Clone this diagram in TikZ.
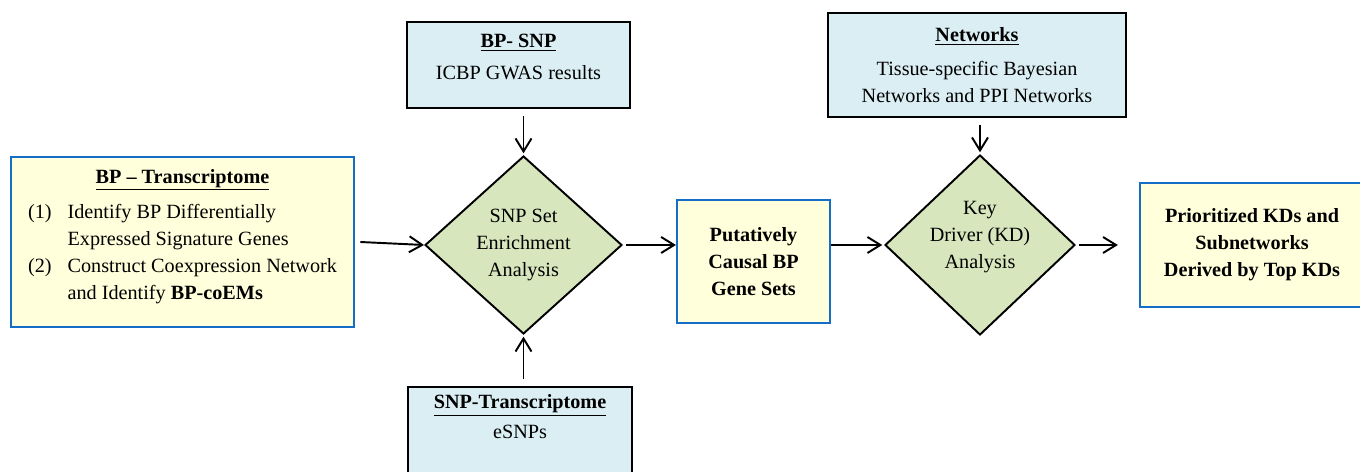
\documentclass[tikz,border=0pt]{standalone}
\usepackage{fontspec}
\setmainfont{Liberation Serif}
\usepackage{tikz}
\usetikzlibrary{shapes.geometric, arrows.meta, positioning}
\definecolor{boxyellow}{RGB}{255,255,220}
\definecolor{boxblue}{RGB}{218,238,243}
\definecolor{edgeblue}{RGB}{20,110,200}
\definecolor{diagreen}{RGB}{215,230,189}

\begin{document}
\begin{tikzpicture}[x=0.02cm, y=-0.02cm,
  every node/.style={font=\fontsize{11.5}{15.4}\selectfont},
  stage/.style={rectangle, draw=edgeblue, line width=1.2pt, fill=boxyellow, align=center, inner sep=2pt},
  source/.style={rectangle, draw=black, line width=1.1pt, fill=boxblue, align=center, inner sep=2pt},
  test/.style={diamond, draw=black, line width=1.1pt, fill=diagreen, align=center, inner sep=0pt,
               minimum width=3.94cm, minimum height=3.56cm},
  arr/.style={-{Straight Barb[length=2.6mm, width=3.2mm]}, line width=1.1pt},
]
  \useasboundingbox (0,0) rectangle (1360,472);

  % inputs
  \node[stage, minimum width=6.86cm, minimum height=3.4cm] (trans) at (182.5,242)
    {\underline{\textbf{BP -- Transcriptome}}\\[4pt]
     \begin{tabular}{@{}l@{\hspace{0.32cm}}l@{}}
       (1) & Identify BP Differentially\\
           & Expressed Signature Genes\\
       (2) & Construct Coexpression Network\\
           & and Identify \textbf{BP-coEMs}
     \end{tabular}\\[3pt]};
  \node[source, minimum width=4.46cm, minimum height=1.72cm, text depth=9pt] (gwas) at (518.5,65)
    {\underline{\textbf{BP- SNP}}\\[3pt]ICBP GWAS results};
  \node[source, minimum width=4.48cm, minimum height=1.88cm] (esnp) at (520,434)
    {\underline{\textbf{SNP-Transcriptome}}\\[2pt]eSNPs\\ \strut};
  \node[source, minimum width=5.96cm, minimum height=2.08cm] (net) at (977,65)
    {\underline{\textbf{Networks}}\\[4pt]Tissue-specific Bayesian\\Networks and PPI Networks};

  % analyses
  \node[test] (sea) at (523.5,245) {SNP Set\\Enrichment\\Analysis};
  \node[stage, minimum width=3.06cm, minimum height=2.46cm] (causal) at (753.5,261.5)
    {\textbf{Putatively}\\\textbf{Causal BP}\\\textbf{Gene Sets}};
  \node[test, minimum width=3.8cm, minimum height=3.6cm, text depth=12pt, inner sep=-8pt] (kda) at (980,245)
    {Key\\Driver (KD)\\Analysis};
  \node[stage, minimum width=4.48cm, minimum height=2.48cm] (top) at (1252,245)
    {\textbf{Prioritized KDs and}\\\textbf{Subnetworks}\\\textbf{Derived by Top KDs}};

  \draw[arr] ([xshift=3pt]trans.east) -- (sea.west);
  \draw[arr] ([yshift=-4pt]sea.north |- gwas.south) -- ([yshift=1pt]sea.north);
  \draw[arr] ([yshift=4pt]sea.south |- esnp.north) -- ([yshift=-1pt]sea.south);
  \draw[arr] ([xshift=2pt]sea.east) -- (sea.east -| causal.west);
  \draw[arr] (kda.west -| causal.east) -- ([xshift=-1pt]kda.west);
  \draw[arr] ([yshift=-4pt]kda.north |- net.south) -- ([yshift=1pt]kda.north);
  \draw[arr] ([xshift=2pt]kda.east) -- ([xshift=-12pt]top.west);
\end{tikzpicture}
\end{document}
